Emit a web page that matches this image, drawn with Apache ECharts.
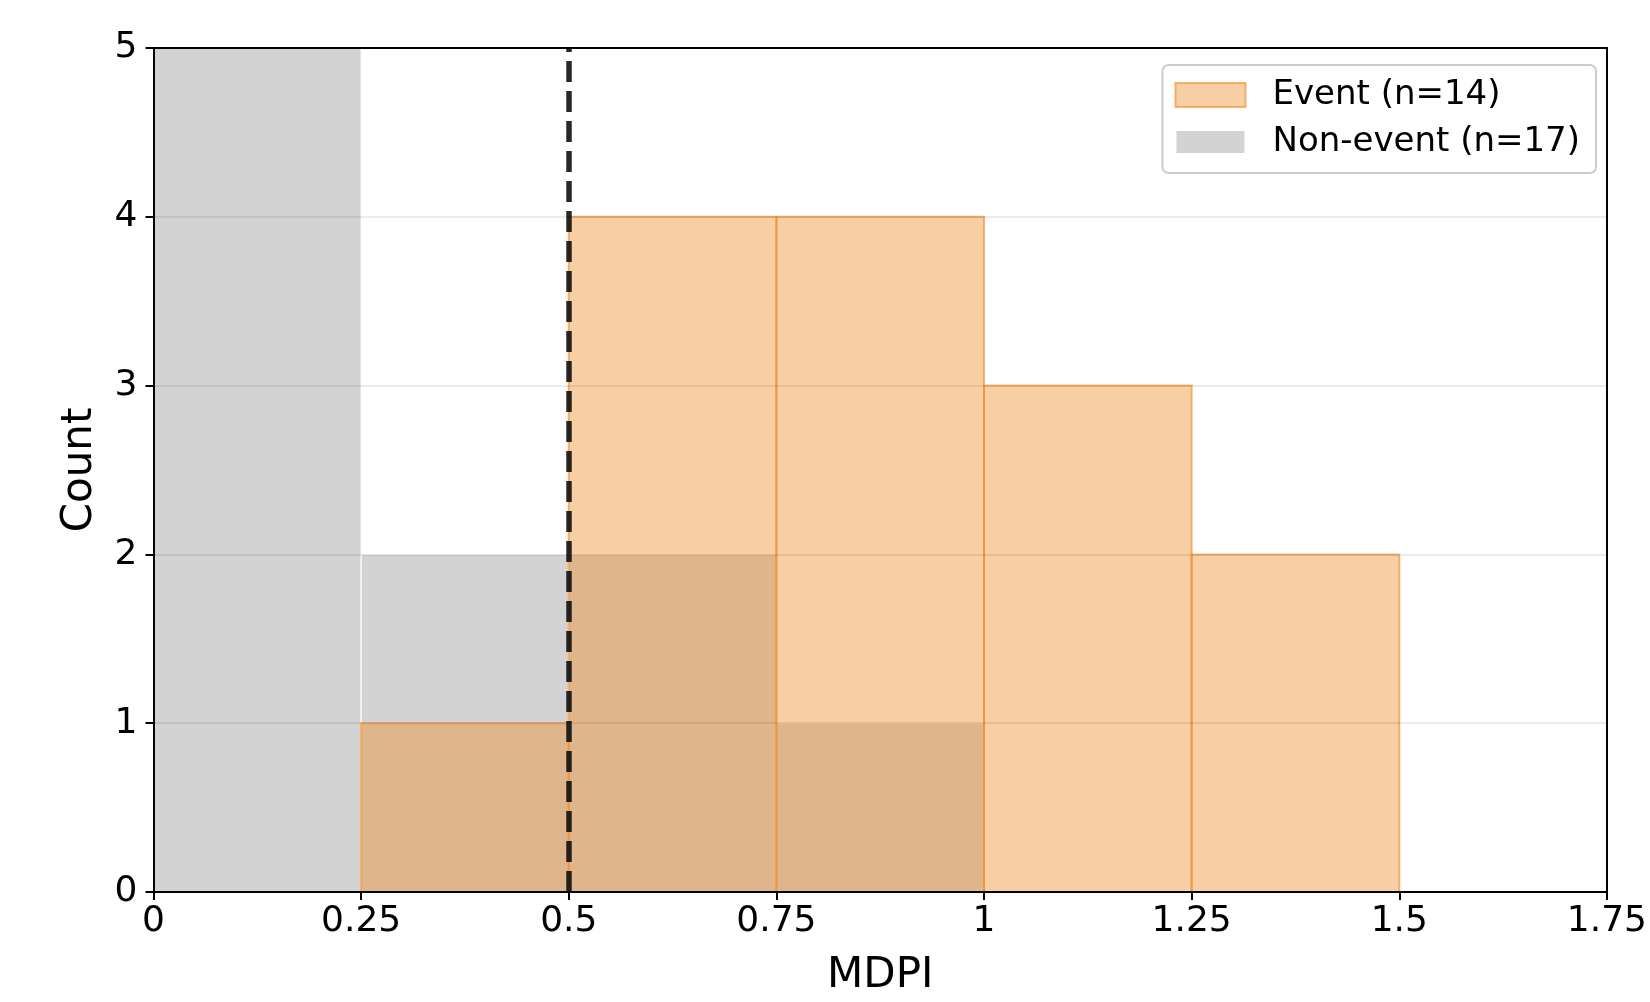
<!DOCTYPE html>
<html>
<head>
<meta charset="utf-8">
<script src="https://cdn.jsdelivr.net/npm/echarts@6/dist/echarts.min.js"></script>
<style>
  html, body { margin: 0; padding: 0; background: #fff; }
  #chart { width: 1650px; height: 1002px; }
</style>
</head>
<body>
<div id="chart"></div>
<script>
// ---- data ----
const binEdges = [0, 0.25, 0.5, 0.75, 1.0, 1.25, 1.5, 1.75];
const eventCounts = [0, 1, 4, 4, 3, 2, 0];
const nonEventCounts = [12, 2, 2, 1, 0, 0, 0];
const seriesNames = ['Event (n=14)', 'Non-event (n=17)'];
const thresholdMDPI = 0.5;
const xAxisRange = [0, 1.75];
const yAxisRange = [0, 5];
const xTickStep = 0.25;
const yTickStep = 1;
const axisTitles = ['MDPI', 'Count'];

// ---- build ----
function binData(counts) {
  const out = [];
  for (let i = 0; i < counts.length; i++) out.push([binEdges[i], binEdges[i + 1], counts[i]]);
  return out;
}
function renderBin(params, api) {
  const x0 = api.value(0), x1 = api.value(1), c = api.value(2);
  if (!c) return null;
  const p0 = api.coord([x0, 0]);
  const p1 = api.coord([x1, c]);
  return {
    type: 'rect',
    shape: { x: p0[0], y: p1[1], width: p1[0] - p0[0], height: p0[1] - p1[1] },
    style: api.style()
  };
}
const FONT = 'DejaVu Sans';
const chart = echarts.init(document.getElementById('chart'), null, { renderer: 'canvas' });
const axisLineStyle = { color: '#000', width: 2 };
chart.setOption({
  animation: false,
  backgroundColor: '#fff',
  grid: { left: 153.5, right: 36.5, top: 48, bottom: 108.5 },
  legend: {
    data: seriesNames,
    orient: 'vertical',
    right: 54,
    top: 65,
    itemWidth: 70,
    itemHeight: 24,
    itemGap: 13,
    padding: [13, 16, 14, 12],
    backgroundColor: 'rgba(255,255,255,0.85)',
    borderColor: '#cccccc',
    borderWidth: 2,
    borderRadius: 6,
    icon: 'rect',
    selectedMode: false,
    textStyle: { fontFamily: FONT, fontSize: 34, color: '#000', padding: [0, 0, 0, 22] }
  },
  xAxis: [{
    type: 'value', position: 'bottom', min: xAxisRange[0], max: xAxisRange[1], interval: xTickStep,
    z: 10,
    name: axisTitles[0], nameLocation: 'middle', nameGap: 63,
    nameTextStyle: { fontFamily: FONT, fontSize: 42, color: '#000' },
    axisLine: { show: true, onZero: false, lineStyle: axisLineStyle },
    axisTick: { show: true, length: 8, lineStyle: axisLineStyle },
    axisLabel: { fontFamily: FONT, fontSize: 36, color: '#000', margin: 12, showMaxLabel: true, hideOverlap: false },
    splitLine: { show: false }
  }, {
    type: 'value', position: 'top', min: xAxisRange[0], max: xAxisRange[1], interval: xTickStep,
    z: 10,
    axisLine: { show: true, onZero: false, lineStyle: axisLineStyle },
    axisTick: { show: false }, axisLabel: { show: false }, splitLine: { show: false }
  }],
  yAxis: [{
    type: 'value', position: 'left', min: yAxisRange[0], max: yAxisRange[1], interval: yTickStep,
    z: 10,
    name: axisTitles[1], nameLocation: 'middle', nameGap: 52, nameRotate: 90,
    nameTextStyle: { fontFamily: FONT, fontSize: 42, color: '#000' },
    axisLine: { show: true, onZero: false, lineStyle: axisLineStyle },
    axisTick: { show: true, length: 8, lineStyle: axisLineStyle },
    axisLabel: { fontFamily: FONT, fontSize: 36, color: '#000', margin: 16 },
    splitLine: { show: true, lineStyle: { color: 'rgba(0,0,0,0.08)', width: 2 } }
  }, {
    type: 'value', position: 'right', min: yAxisRange[0], max: yAxisRange[1], interval: yTickStep,
    z: 10,
    axisLine: { show: true, onZero: false, lineStyle: axisLineStyle },
    axisTick: { show: false }, axisLabel: { show: false }, splitLine: { show: false }
  }],
  series: [{
    name: seriesNames[1],
    type: 'custom',
    renderItem: renderBin,
    clip: true,
    encode: { x: [0, 1], y: 2 },
    itemStyle: { color: '#d3d3d3', borderColor: '#ffffff', borderWidth: 1 },
    data: binData(nonEventCounts),
    z: 2
  }, {
    name: seriesNames[0],
    type: 'custom',
    renderItem: renderBin,
    clip: true,
    encode: { x: [0, 1], y: 2 },
    itemStyle: { color: 'rgba(239,144,44,0.43)', borderColor: 'rgba(239,144,44,0.65)', borderWidth: 2 },
    data: binData(eventCounts),
    z: 3
  }, {
    name: 'threshold',
    type: 'line',
    data: [],
    z: 4,
    markLine: {
      silent: true,
      symbol: ['none', 'none'],
      label: { show: false },
      animation: false,
      lineStyle: { color: 'rgba(17,17,17,0.9)', width: 5.5, type: [21, 9] },
      emphasis: { disabled: true },
      data: [{ xAxis: thresholdMDPI }]
    }
  }]
});
</script>
</body>
</html>
